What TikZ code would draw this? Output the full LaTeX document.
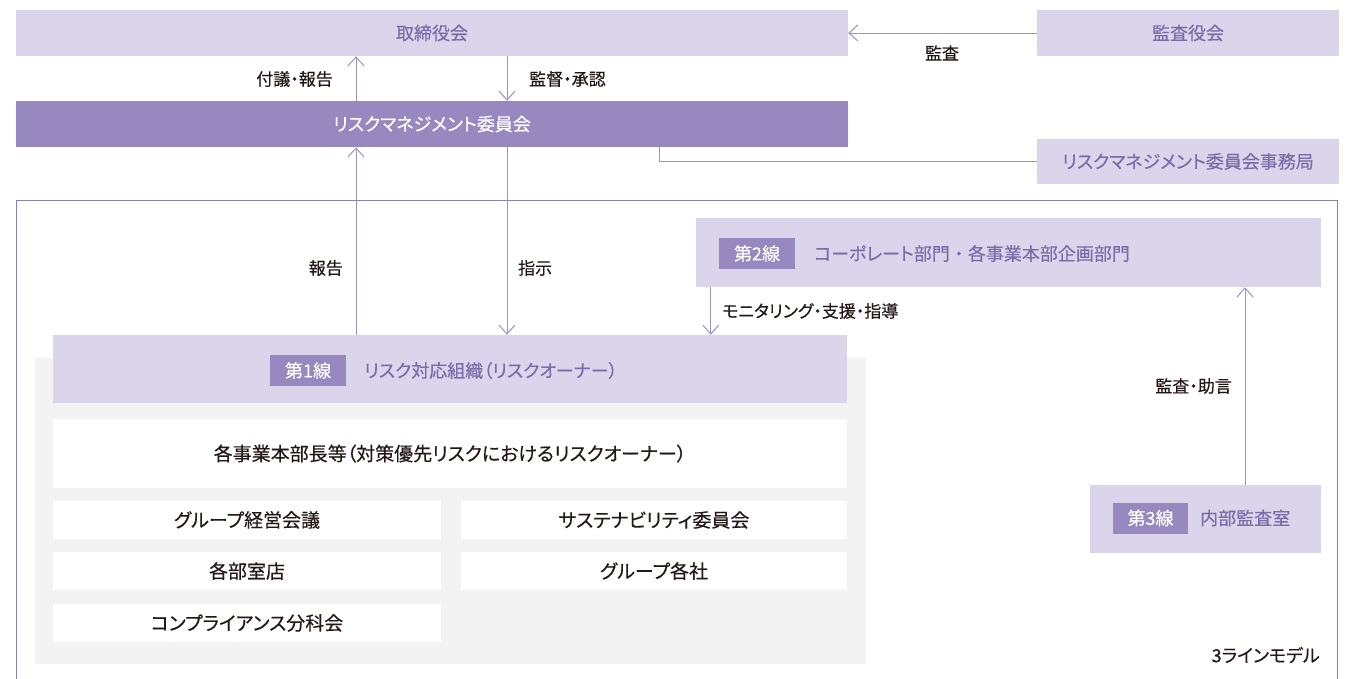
\documentclass[tikz,border=0pt]{standalone}
\usepackage{fontspec}
\newfontfamily\jp[RawFeature=+palt, FakeBold=0.3]{Noto Sans CJK JP}
\newcommand\fwdot{{\addfontfeature{RawFeature=-palt}・}}
\usetikzlibrary{arrows.meta}
\definecolor{lav}{HTML}{DAD5EA}
\definecolor{purp}{HTML}{9789BF}
\definecolor{txtp}{HTML}{7A6CA8}
\definecolor{conn}{HTML}{9C92C3}
\definecolor{framec}{HTML}{8A80B6}
\definecolor{greybg}{HTML}{F3F3F3}
\definecolor{ink}{HTML}{231815}
\tikzset{
  box/.style={rectangle, inner sep=0pt, fill=lav, text=txtp, font=\jp\fontsize{18}{21}\selectfont},
  darkbox/.style={rectangle, inner sep=0pt, fill=purp, text=white, font=\jp\fontsize{18}{21}\selectfont},
  whitebox/.style={rectangle, inner sep=0pt, fill=white, text=ink, font=\jp\fontsize{19}{22}\selectfont},
  badge/.style={rectangle, inner sep=0pt, fill=purp, text=white, minimum width=76pt, minimum height=31pt, font=\jp\fontsize{18}{21}\selectfont},
  boxtext/.style={inner sep=0pt, text=txtp, font=\jp\fontsize{18}{21}\selectfont},
  lbl/.style={inner sep=0pt, text=ink, font=\jp\fontsize{17}{20}\selectfont},
  conn/.style={draw=conn, line width=1pt},
  arr/.style={conn, -{Straight Barb[length=9pt,width=16pt,line width=1pt]}},
}
\begin{document}
\begin{tikzpicture}[x=1pt,y=-1pt]
\useasboundingbox (0,0) rectangle (1348,678);
\fill[white] (0,0) rectangle (1348,678);
% frame
\draw[framec, line width=1pt] (16,690) -- (16,200) -- (1337,200) -- (1337,690);
% grey background
\fill[greybg] (35,358) rectangle (866,664);
% top boxes
\node[box, minimum width=832pt, minimum height=46pt] (board) at (432,33) {取締役会};
\node[box, minimum width=302pt, minimum height=46pt] (kansa) at (1188,33) {監査役会};
\node[darkbox, minimum width=832pt, minimum height=46pt] (rmc) at (432,124) {リスクマネジメント委員会};
\node[box, minimum width=302pt, minimum height=45pt] (sec) at (1188,161.5) {リスクマネジメント委員会事務局};
% line 1
\node[box, minimum width=794pt, minimum height=68pt] (l1) at (450,369) {};
\node[badge] (b1) at (308,370.5) {第1線};
\node[boxtext, anchor=west] (t1) at (364,370.5) {リスク対応組織（リスクオーナー）};
% line 2
\node[box, minimum width=625pt, minimum height=69pt] (l2) at (1008.5,252.5) {};
\node[badge] (b2) at (757,253.5) {第2線};
\node[boxtext, anchor=west] (t2) at (814,253.5) {コーポレート部門\fwdot 各事業本部企画部門};
% line 3
\node[box, minimum width=231pt, minimum height=68pt] (l3) at (1205.5,519) {};
\node[badge, minimum width=75pt] (b3) at (1150.5,518) {第3線};
\node[boxtext, anchor=west] (t3) at (1200,518) {内部監査室};
% white boxes
\node[whitebox, minimum width=794pt, minimum height=69pt] (w0) at (450,453.5) {各事業本部長等（対策優先リスクにおけるリスクオーナー）};
\node[whitebox, minimum width=388pt, minimum height=38pt] (w1) at (247,520) {グループ経営会議};
\node[whitebox, minimum width=386pt, minimum height=38pt] (w2) at (654,520) {サステナビリティ委員会};
\node[whitebox, minimum width=388pt, minimum height=38pt] (w3) at (247,571) {各部室店};
\node[whitebox, minimum width=386pt, minimum height=38pt] (w4) at (654,571) {グループ各社};
\node[whitebox, minimum width=388pt, minimum height=38pt] (w5) at (247,623) {コンプライアンス分科会};
% caption
\node[lbl, anchor=east, font=\jp\fontsize{18}{21}\selectfont] (cap) at (1320,655) {3ラインモデル};
% connector anchor points
\coordinate (pa) at ([xshift=-76pt]rmc.north);
\coordinate (pb) at ([xshift=75pt]board.south);
\coordinate (pc) at ([xshift=227pt]rmc.south);
\coordinate (pd) at ([xshift=-94pt]l1.north);
\coordinate (pe) at ([xshift=75pt]rmc.south);
\coordinate (pf) at ([xshift=15pt]l2.south west);
\coordinate (pg) at ([xshift=39.5pt]l3.north);
% connectors
\draw[arr] (kansa.west) -- (board.east);
\node[lbl] (lk) at (942,53) {監査};
\draw[arr] (pa) -- (pa |- board.south);
\node[lbl, anchor=east] (la) at (333,79) {付議・報告};
\draw[arr] (pb) -- (pb |- rmc.north);
\node[lbl, anchor=west] (lb) at (529,79) {監督・承認};
\draw[conn] (pc) |- (sec.west);
\draw[arr] (pd) -- (pd |- rmc.south);
\node[lbl, anchor=east] (lr) at (343,268) {報告};
\draw[arr] (pe) -- (pe |- l1.north);
\node[lbl, anchor=west] (ls) at (518,268) {指示};
\draw[arr] (pf) -- (pf |- l1.north);
\node[lbl, anchor=west] (lm) at (722,311) {モニタリング・支援・指導};
\draw[arr] (pg) -- (pg |- l2.south);
\node[lbl, anchor=east] (lz) at (1232,386) {監査・助言};
\end{tikzpicture}
\end{document}
